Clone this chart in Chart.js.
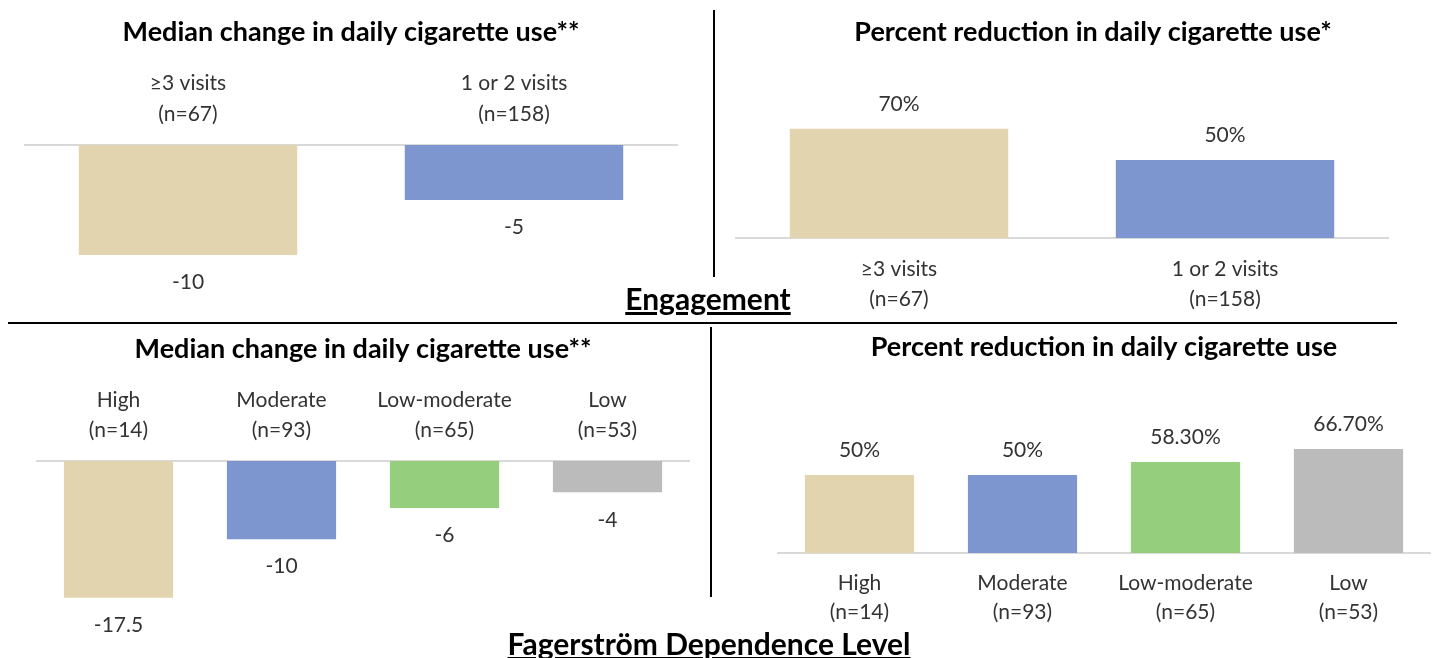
<!DOCTYPE html>
<html lang="en">
  <head>
    <meta charset="UTF-8" />
    <title>Cigarette use by engagement and dependence level</title>
    <script src="https://cdn.jsdelivr.net/npm/chart.js"></script>
    <style>
      body {
        margin: 0;
        width: 1434px;
        height: 658px;
        position: relative;
        overflow: hidden;
        background: #fff;
        font-family: Lato, sans-serif;
      }
      .box {
        position: absolute;
      }
      .rule {
        position: absolute;
        background: #000;
      }
      .section {
        position: absolute;
        transform: translateX(-50%);
        font-size: 30px;
        font-weight: bold;
        text-decoration: underline;
        white-space: nowrap;
        line-height: 1;
      }
    </style>
  </head>
  <body>
    <div class="box" style="left: 0; top: 0; width: 714px; height: 330px"><canvas id="engMedian"></canvas></div>
    <div class="box" style="left: 714px; top: 0; width: 740px; height: 320px"><canvas id="engPercent"></canvas></div>
    <div class="box" style="left: 0; top: 324px; width: 711px; height: 334px"><canvas id="depMedian"></canvas></div>
    <div class="box" style="left: 711px; top: 324px; width: 723px; height: 334px"><canvas id="depPercent"></canvas></div>

    <div class="rule" style="left: 713px; top: 10px; width: 2px; height: 267px"></div>
    <div class="rule" style="left: 8px; top: 322px; width: 1389px; height: 2px"></div>
    <div class="rule" style="left: 710px; top: 327px; width: 2px; height: 270px"></div>

    <div class="section" style="left: 708px; top: 283px">Engagement</div>
    <div class="section" style="left: 709px; top: 628px">Fagerström Dependence Level</div>

    <script>
      // categories
      const engagementLabels = [["≥3 visits", "(n=67)"], ["1 or 2 visits", "(n=158)"]];
      const dependenceLabels = [
        ["High", "(n=14)"],
        ["Moderate", "(n=93)"],
        ["Low-moderate", "(n=65)"],
        ["Low", "(n=53)"],
      ];

      // values
      const engagementMedianChange = [-10, -5];
      const engagementPercentReduction = [70, 50];
      const dependenceMedianChange = [-17.5, -10, -6, -4];
      const dependencePercentReduction = [50, 50, 58.3, 66.7];

      const barColors = ["#E1D4AE", "#7E96CF", "#95CF7D", "#BBBBBB"];
      const FONT = "Lato, sans-serif";
      const TEXT = "#333333";

      // draw the value next to the end of each bar
      const valueLabels = {
        id: "valueLabels",
        afterDatasetsDraw(chart, args, opts) {
          const ctx = chart.ctx;
          const values = chart.data.datasets[0].data;
          ctx.save();
          ctx.font = "21px " + FONT;
          ctx.fillStyle = TEXT;
          ctx.textAlign = "center";
          ctx.textBaseline = "middle";
          chart.getDatasetMeta(0).data.forEach((bar, i) => {
            const v = values[i];
            const y = v < 0 ? bar.y + 27.5 : bar.y - 25;
            ctx.fillText(opts.format(v), bar.x, y);
          });
          ctx.restore();
        },
      };

      const plain = (v) => String(v);
      const percent = (v) => (Number.isInteger(v) ? v + "%" : v.toFixed(2) + "%");

      function makeChart(id, labels, values, cfg) {
        return new Chart(document.getElementById(id), {
          type: "bar",
          data: {
            labels: labels,
            datasets: [
              {
                data: values,
                backgroundColor: barColors.slice(0, values.length),
                barPercentage: 0.67,
                categoryPercentage: 1,
              },
            ],
          },
          options: {
            responsive: true,
            maintainAspectRatio: false,
            animation: false,
            layout: { padding: cfg.padding },
            plugins: {
              legend: { display: false },
              tooltip: { enabled: false },
              title: {
                display: true,
                text: cfg.title,
                color: "#000",
                font: { family: FONT, size: 27, weight: "bold", lineHeight: 1.2 },
                padding: cfg.titlePadding,
              },
              valueLabels: { format: cfg.format },
            },
            scales: {
              x: {
                position: cfg.xPos,
                grid: { display: false, drawTicks: false },
                border: { color: "#D9D9D9", width: 2 },
                ticks: {
                  color: TEXT,
                  font: { family: FONT, size: 21, lineHeight: cfg.tickLine },
                  padding: cfg.tickPad,
                  maxRotation: 0,
                  autoSkip: false,
                },
                afterFit: (axis) => {
                  axis.height = cfg.axisHeight;
                },
              },
              // y axis stays invisible; a blank gutter on the right only shifts the title
              y: {
                display: cfg.gutter > 0,
                position: "right",
                min: cfg.min,
                max: cfg.max,
                grid: { display: false },
                border: { display: false },
                ticks: { display: false },
                afterFit: (axis) => {
                  axis.width = cfg.gutter;
                },
              },
            },
          },
          plugins: [valueLabels],
        });
      }

      makeChart("engMedian", engagementLabels, engagementMedianChange, {
        title: "Median change in daily cigarette use**",
        padding: { left: 25, right: 37, top: 0, bottom: 20 },
        titlePadding: { top: 15.8, bottom: 0 },
        xPos: "top",
        axisHeight: 96.8,
        tickLine: 31 / 21,
        tickPad: 15,
        min: -15,
        max: 0,
        gutter: 0,
        format: plain,
      });

      makeChart("engPercent", engagementLabels, engagementPercentReduction, {
        title: "Percent reduction in daily cigarette use*",
        padding: { left: 22, right: 4, top: 0, bottom: 0 },
        titlePadding: { top: 15.8, bottom: 33.8 },
        xPos: "bottom",
        axisHeight: 82,
        tickLine: 30 / 21,
        tickPad: 16,
        min: 0,
        max: 100,
        gutter: 62,
        format: percent,
      });

      makeChart("depMedian", dependenceLabels, dependenceMedianChange, {
        title: "Median change in daily cigarette use**",
        padding: { left: 37, right: 22, top: 0, bottom: 25 },
        titlePadding: { top: 8.8, bottom: 0 },
        xPos: "top",
        axisHeight: 95.8,
        tickLine: 30 / 21,
        tickPad: 16,
        min: -22,
        max: 0,
        gutter: 0,
        format: plain,
      });

      makeChart("depPercent", dependenceLabels, dependencePercentReduction, {
        title: "Percent reduction in daily cigarette use",
        padding: { left: 67, right: 4, top: 0, bottom: 0 },
        titlePadding: { top: 6.8, bottom: 33.8 },
        xPos: "bottom",
        axisHeight: 105,
        tickLine: 29 / 21,
        tickPad: 16,
        min: 0,
        max: 100,
        gutter: 0,
        format: percent,
      });
    </script>
  </body>
</html>
